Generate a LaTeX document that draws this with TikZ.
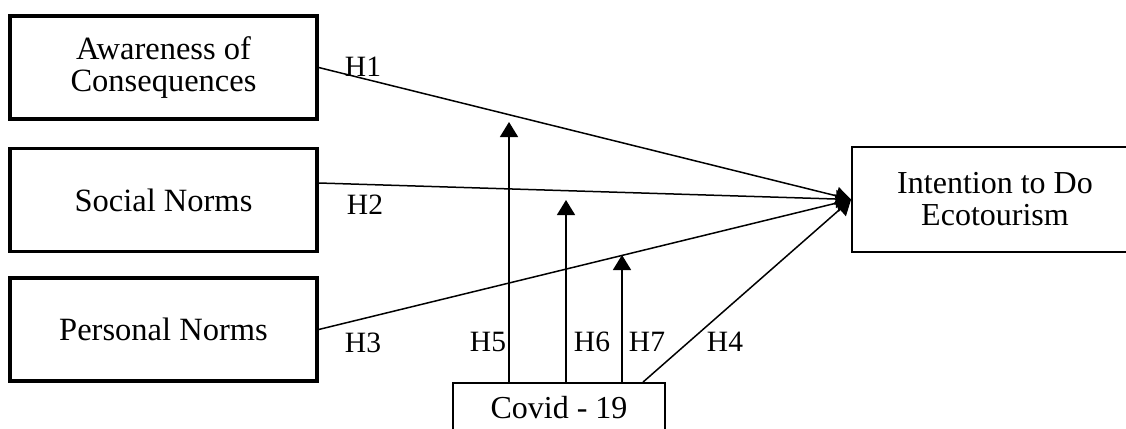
\documentclass[tikz,border=0pt]{standalone}
\usepackage{fontspec}
\setmainfont{Liberation Serif}
\usetikzlibrary{arrows.meta,positioning,calc}

\begin{document}
\begin{tikzpicture}[x=1pt,y=-1pt,>={Triangle[length=15pt,width=18pt]}]
    \tikzstyle{cause}=[draw=black, line width=3.4pt, minimum width=307pt, minimum height=103pt, align=center, inner sep=0pt, font=\fontsize{32.5}{32}\selectfont]
    \tikzstyle{effect}=[draw=black, line width=1.8pt, align=center, inner sep=0pt, font=\fontsize{32}{32}\selectfont]
    \tikzstyle{link}=[line width=1.5pt]
    \tikzstyle{hlab}=[font=\fontsize{29.5}{30}\selectfont, inner sep=0pt]
    \useasboundingbox (0,0) rectangle (1126,428);
    \clip (0,0) rectangle (1126,428);
    \foreach \i/\y/\txt in {ac/67.5/{Awareness of\\Consequences},sn/200/{Social Norms},pn/329.5/{Personal Norms}} {
        \node[cause] (\i) at (163.5,\y) {\txt};
    }
    \node[effect, minimum width=286pt, minimum height=105pt] (ie) at (995,199.5) {Intention to Do\\Ecotourism};
    \node[effect, minimum width=212pt, minimum height=50pt] (cv) at (559,408) {Covid - 19};
    % direct effects
    \draw[->,link] (ac.east) -- (ie.west);
    \draw[->,link] ([yshift=17pt]sn.east) -- (ie.west);
    \draw[->,link] (pn.east) -- (ie.west);
    \draw[->,link] ([xshift=84pt]cv.north) -- (ie.west);
    % moderation
    \coordinate (m5) at (509,122);
    \coordinate (m6) at (566,200);
    \coordinate (m7) at (622,255);
    \foreach \j in {5,6,7} {
        \draw[->,link] (cv.north -| m\j) -- (m\j);
    }
    \foreach \k/\pos in {1/{363,67},2/{365,205},3/{363,343},5/{488,342},6/{592,342},7/{647,342},4/{725,342}} {
        \node[hlab] (h\k) at (\pos) {H\k};
    }
\end{tikzpicture}
\end{document}
